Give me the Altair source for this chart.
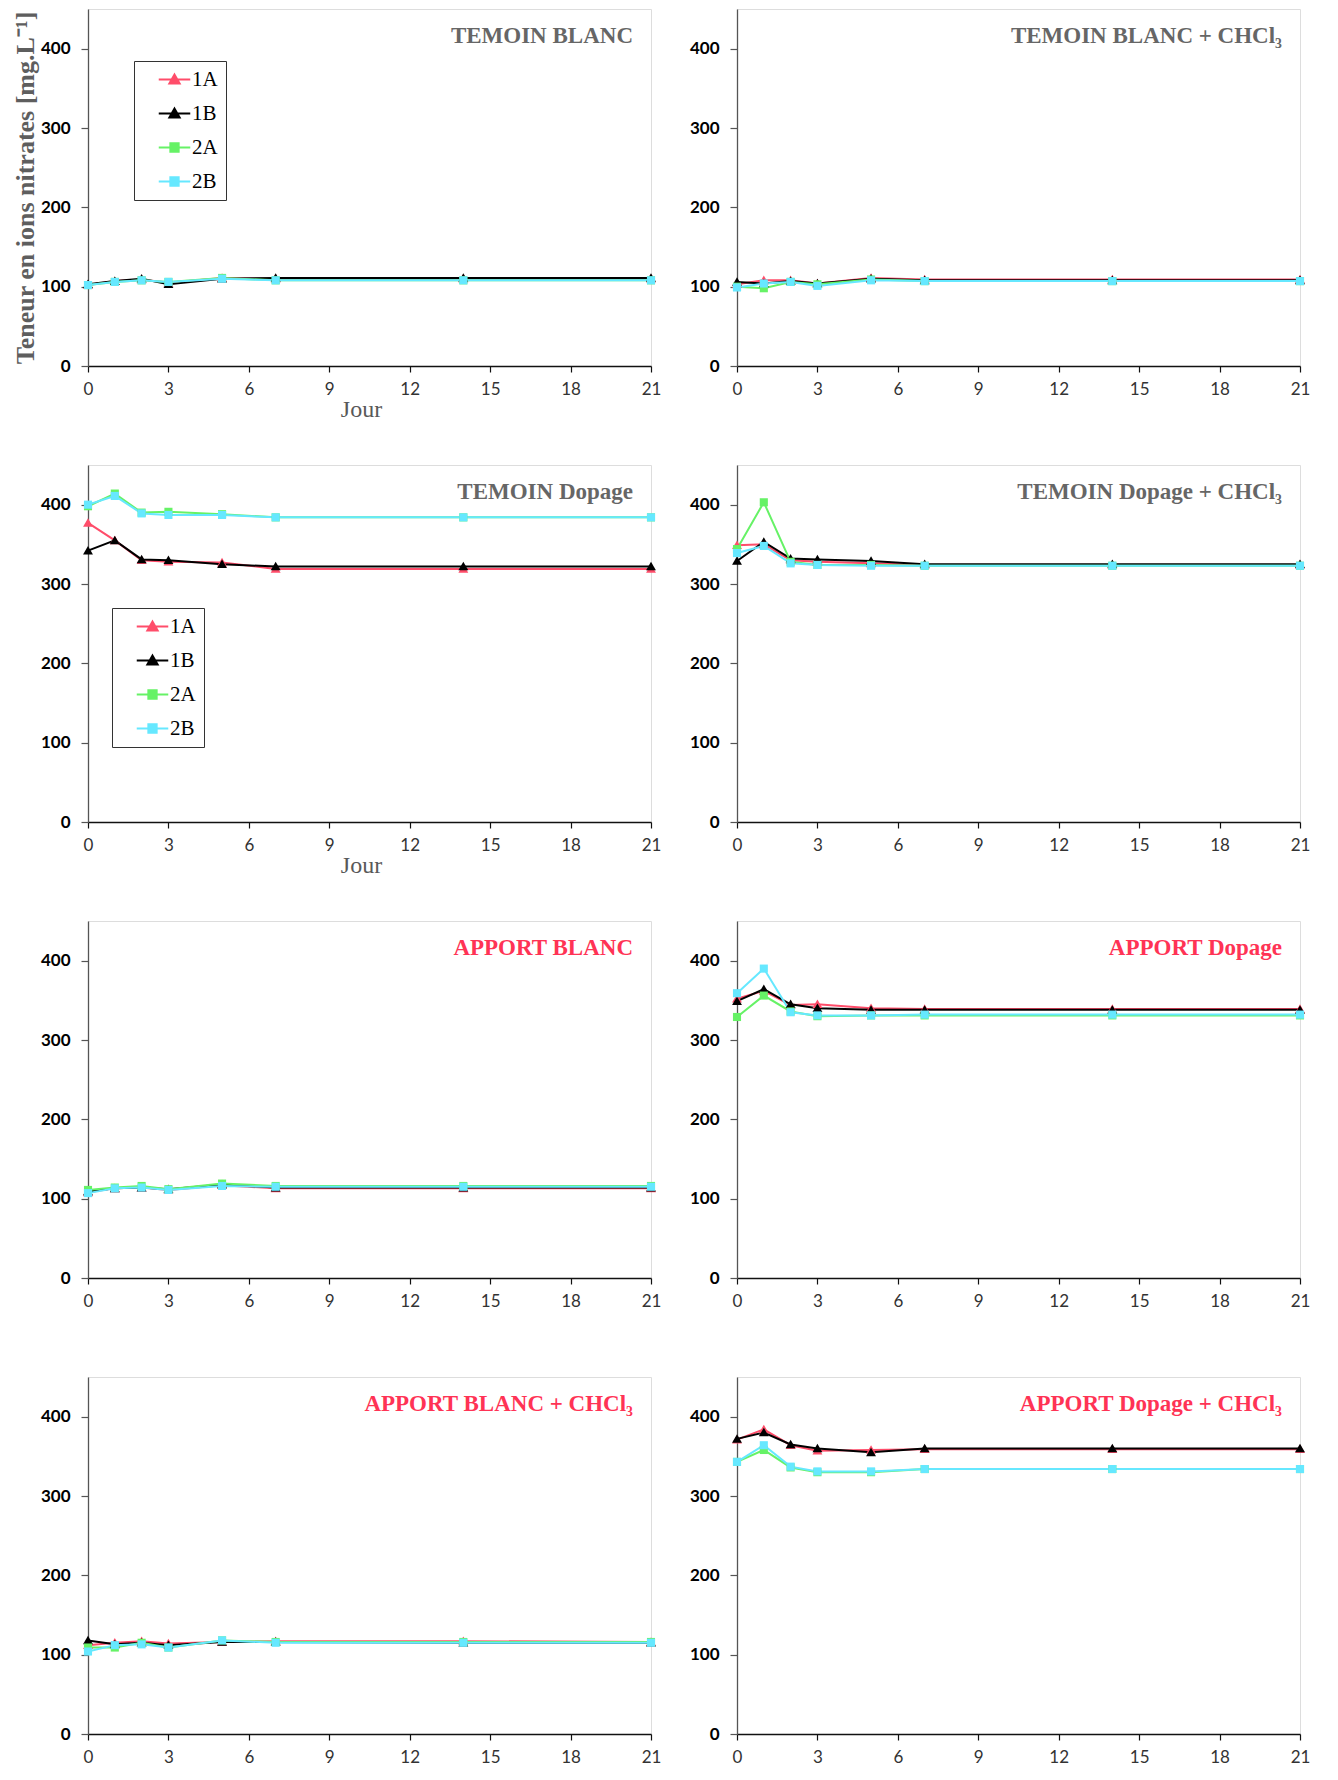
import altair as alt
import pandas as pd

days = [0, 1, 2, 3, 5, 7, 14, 21]
series_names = ["1A", "1B", "2A", "2B"]
series_colors = ["#FF4D6A", "#000000", "#66F266", "#66E8FF"]
triangle_series = ["1A", "1B"]
square_series = ["2A", "2B"]
# plot markers
tri_marker = "M0,-1.05L1.1,0.85L-1.1,0.85Z"
sq_marker = "M-0.9,-0.9H0.9V0.9H-0.9Z"
# legend glyphs: a line segment + marker
tri_legend = "M-3.5,0H3.5M0,-1.05L1.1,0.85L-1.1,0.85Z"
sq_legend = "M-3.5,0H3.5M-0.9,-0.9H0.9V0.9H-0.9Z"
legend_shapes = [tri_legend, tri_legend, sq_legend, sq_legend]

x_ticks = [0, 3, 6, 9, 12, 15, 18, 21]
y_ticks = [0, 100, 200, 300, 400]

panel_titles = [
    "TEMOIN BLANC", "TEMOIN BLANC + CHCl₃",
    "TEMOIN Dopage", "TEMOIN Dopage + CHCl₃",
    "APPORT BLANC", "APPORT Dopage",
    "APPORT BLANC + CHCl₃", "APPORT Dopage + CHCl₃",
]
title_colors = ["#666666"] * 4 + ["#FF3355"] * 4

temoin_blanc = {
    "1A": [102, 107, 109, 105, 111, 110, 110, 110],
    "1B": [103, 107, 110, 103, 110, 111, 111, 111],
    "2A": [102, 106, 108, 106, 111, 108, 108, 108],
    "2B": [102, 106, 108, 106, 110, 108, 108, 108],
}
temoin_blanc_chcl3 = {
    "1A": [103, 108, 108, 104, 111, 109, 109, 109],
    "1B": [106, 104, 107, 104, 110, 108, 108, 108],
    "2A": [100, 98, 106, 103, 109, 107, 107, 107],
    "2B": [99, 104, 106, 101, 108, 107, 107, 107],
}
temoin_dopage = {
    "1A": [377, 355, 330, 328, 327, 319, 319, 319],
    "1B": [342, 355, 331, 330, 325, 322, 322, 322],
    "2A": [398, 414, 390, 391, 388, 384, 384, 384],
    "2B": [400, 411, 389, 387, 387, 384, 384, 384],
}
temoin_dopage_chcl3 = {
    "1A": [349, 350, 330, 328, 326, 324, 324, 324],
    "1B": [329, 353, 332, 331, 329, 325, 325, 325],
    "2A": [344, 403, 328, 324, 324, 323, 323, 323],
    "2B": [339, 348, 326, 324, 323, 323, 323, 323],
}
apport_blanc = {
    "1A": [108, 113, 114, 111, 117, 113, 113, 113],
    "1B": [109, 113, 114, 112, 118, 114, 114, 114],
    "2A": [111, 114, 116, 112, 119, 116, 116, 116],
    "2B": [107, 113, 114, 111, 116, 115, 115, 115],
}
apport_dopage = {
    "1A": [352, 362, 344, 345, 340, 339, 339, 339],
    "1B": [349, 364, 345, 340, 338, 338, 338, 338],
    "2A": [329, 356, 336, 330, 331, 331, 331, 331],
    "2B": [359, 390, 335, 331, 331, 332, 332, 332],
}
apport_blanc_chcl3 = {
    "1A": [112, 115, 117, 114, 116, 117, 117, 116],
    "1B": [118, 113, 115, 112, 116, 116, 115, 115],
    "2A": [109, 109, 115, 109, 118, 116, 116, 116],
    "2B": [104, 112, 113, 109, 118, 115, 115, 115],
}
apport_dopage_chcl3 = {
    "1A": [371, 384, 364, 357, 358, 359, 359, 359],
    "1B": [372, 380, 365, 360, 355, 360, 360, 360],
    "2A": [343, 358, 336, 330, 330, 334, 334, 334],
    "2B": [343, 364, 337, 331, 331, 334, 334, 334],
}

panels_data = [
    temoin_blanc, temoin_blanc_chcl3,
    temoin_dopage, temoin_dopage_chcl3,
    apport_blanc, apport_dopage,
    apport_blanc_chcl3, apport_dopage_chcl3,
]

W, H = 563, 357
SERIF = "Liberation Serif"


def make_panel(idx, values, legend_xy=None, x_title=None, y_title=None):
    rows = []
    for s in series_names:
        for d, v in zip(days, values[s]):
            rows.append({"jour": d, "teneur": v, "serie": s})
    df = pd.DataFrame(rows)

    x = alt.X(
        "jour:Q",
        scale=alt.Scale(domain=[0, 21], nice=False, zero=False),
        axis=alt.Axis(
            values=x_ticks, title=x_title, grid=False,
            domainColor="#111111", domainWidth=1.5, tickColor="#111111",
            tickSize=6, tickWidth=1.2, labelFont="Lato", labelFontSize=17,
            labelColor="#333333", labelPadding=9, labelFlush=False,
            titleFont=SERIF, titleFontSize=24, titleFontWeight="normal",
            titleColor="#595959", titlePadding=0, titleX=273,
        ),
    )
    y = alt.Y(
        "teneur:Q",
        scale=alt.Scale(domain=[0, 450], nice=False),
        axis=alt.Axis(
            values=y_ticks, title=y_title, grid=False,
            domainColor="#555555", domainWidth=1.3, tickColor="#555555",
            tickSize=7, tickWidth=1.2, labelFont="Lato", labelFontSize=17,
            labelFontWeight="bold", labelColor="#000000", labelPadding=11,
            titleFont=SERIF, titleFontSize=26, titleFontWeight="bold",
            titleColor="#5E5E5E", titlePadding=2,
        ),
    )
    color_scale = alt.Scale(domain=series_names, range=series_colors)

    base = alt.Chart(df)
    layers = []

    if legend_xy is not None:
        leg = alt.Legend(
            title=None, orient="none", legendX=legend_xy[0], legendY=legend_xy[1],
            padding=8, strokeColor="#333333", fillColor="#FFFFFF",
            labelFont=SERIF, labelFontSize=21, labelColor="#000000",
            symbolSize=81, symbolOffset=22, labelOffset=7, rowPadding=12,
            symbolOpacity=1, symbolStrokeWidth=2.2,
        )
        # legend-only layer (no data drawn), placed first so its legend wins
        legend_layer = base.transform_filter("false").mark_point(
            filled=True, size=81, opacity=1
        ).encode(
            x=x, y=y,
            color=alt.Color("serie:N", scale=color_scale, legend=leg),
            stroke=alt.Stroke("serie:N", scale=color_scale, legend=leg),
            shape=alt.Shape(
                "serie:N",
                scale=alt.Scale(domain=series_names, range=legend_shapes),
                legend=leg,
            ),
        )
        layers.append(legend_layer)
        sub_leg = {}
    else:
        sub_leg = {"legend": None}

    line = base.mark_line(strokeWidth=2).encode(
        x=x, y=y,
        color=alt.Color("serie:N", scale=color_scale, **sub_leg),
        detail="serie:N",
    )
    tri_pts = base.transform_filter(
        alt.FieldOneOfPredicate(field="serie", oneOf=triangle_series)
    ).mark_point(filled=True, size=81, opacity=1, shape=tri_marker).encode(
        x=x, y=y,
        color=alt.Color("serie:N", scale=color_scale, **sub_leg),
    )
    sq_pts = base.transform_filter(
        alt.FieldOneOfPredicate(field="serie", oneOf=square_series)
    ).mark_point(filled=True, size=81, opacity=1, shape=sq_marker).encode(
        x=x, y=y,
        color=alt.Color("serie:N", scale=color_scale, **sub_leg),
    )
    txt = alt.Chart(pd.DataFrame({"t": [panel_titles[idx]]})).mark_text(
        align="right", baseline="middle", font=SERIF, fontSize=23,
        fontWeight="bold", color=title_colors[idx],
    ).encode(text="t:N", x=alt.value(W - 18), y=alt.value(27))

    layers += [line, tri_pts, sq_pts, txt]
    return alt.layer(*layers).properties(width=W, height=H)


panels = []
for i, vals in enumerate(panels_data):
    legend_xy = None
    x_title = None
    y_title = None
    if i == 0:
        legend_xy = (46, 52)
        x_title = "Jour"
        y_title = "Teneur en ions nitrates [mg.L⁻¹]"
    elif i == 2:
        legend_xy = (24, 143)
        x_title = "Jour"
    panels.append(make_panel(i, vals, legend_xy, x_title, y_title))

chart = alt.concat(
    *panels, columns=2, spacing={"row": 99, "column": 86}, bounds="flush"
).resolve_legend(
    color="independent", shape="independent", stroke="independent"
).properties(
    padding={"left": 3, "top": 0, "right": 5, "bottom": 5}
).configure_view(
    stroke="#4A4A4A", strokeWidth=1.3
).configure_legend(
    strokeWidth=2
).configure(background="#FFFFFF")

chart.save("out.html", embed_options={"renderer": "svg", "actions": False})
